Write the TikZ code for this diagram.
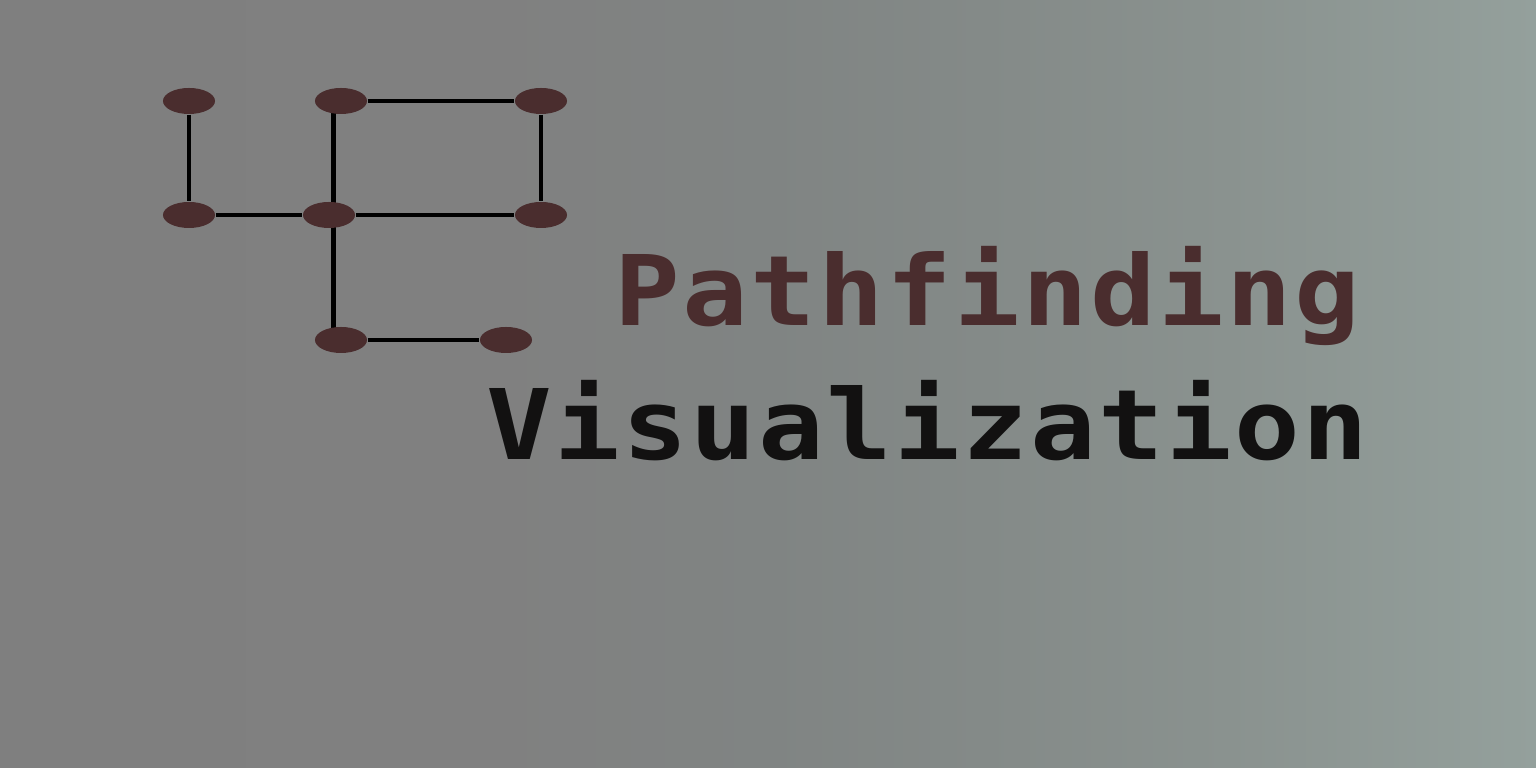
\documentclass[tikz,border=0pt]{standalone}
\usepackage{fontspec}
\usetikzlibrary{shapes.geometric,backgrounds}
\newfontfamily\titlefont[FakeStretch=1.12, LetterSpace=2.4]{DejaVu Sans Mono}
\definecolor{bgA}{HTML}{7F7F7F}
\definecolor{bgB}{HTML}{808080}
\definecolor{bgC}{HTML}{808483}
\definecolor{bgD}{HTML}{848A88}
\definecolor{bgE}{HTML}{8A928F}
\definecolor{bgF}{HTML}{94A09C}
\definecolor{nodebrown}{HTML}{4A2D2E}
\definecolor{titleblack}{HTML}{121111}
\pgfdeclarehorizontalshading{bgshade}{100bp}{color(0bp)=(bgA); color(25bp)=(bgA); color(41bp)=(bgB); color(50bp)=(bgC); color(57bp)=(bgD); color(65bp)=(bgE); color(75bp)=(bgF); color(100bp)=(bgF)}
\tikzset{
  vertex/.style={ellipse, fill=nodebrown, draw=none, inner sep=0pt, minimum width=0.52cm, minimum height=0.26cm},
  edge/.style={draw=black, line width=1.3pt},
  titletext/.style={inner sep=0pt, anchor=base west, font=\titlefont\bfseries\fontsize{27.7}{32}\selectfont}
}
\begin{document}
\begin{tikzpicture}[x=0.01cm, y=-0.01cm]
\useasboundingbox (0,0) rectangle (1536,768);
% nodes
\node[vertex] (A) at (189,101) {};
\node[vertex] (B) at (341,101) {};
\node[vertex] (C) at (541,101) {};
\node[vertex] (D) at (189,215) {};
\node[vertex] (E) at (329,215) {};
\node[vertex] (F) at (541,215) {};
\node[vertex] (G) at (341,340) {};
\node[vertex] (H) at (506,340) {};
\node[titletext, text=nodebrown] (T1) at (614,326) {Pathfinding};
\node[titletext, text=titleblack] (T2) at (486,460) {Visualization};
\begin{scope}[on background layer]
  \shade[shading=bgshade] (0,0) rectangle (1536,768);
  \draw[edge] (A) -- (D);
  \draw[edge] (D) -- (E);
  \draw[edge] (E) -- (F);
  \draw[edge] (B) -- (C);
  \draw[edge] (C) -- (F);
  \draw[edge] ([xshift=-0.075cm]B.center) -- ([xshift=-0.075cm]G.center);
  \draw[edge] (G) -- (H);
\end{scope}
\end{tikzpicture}
\end{document}
